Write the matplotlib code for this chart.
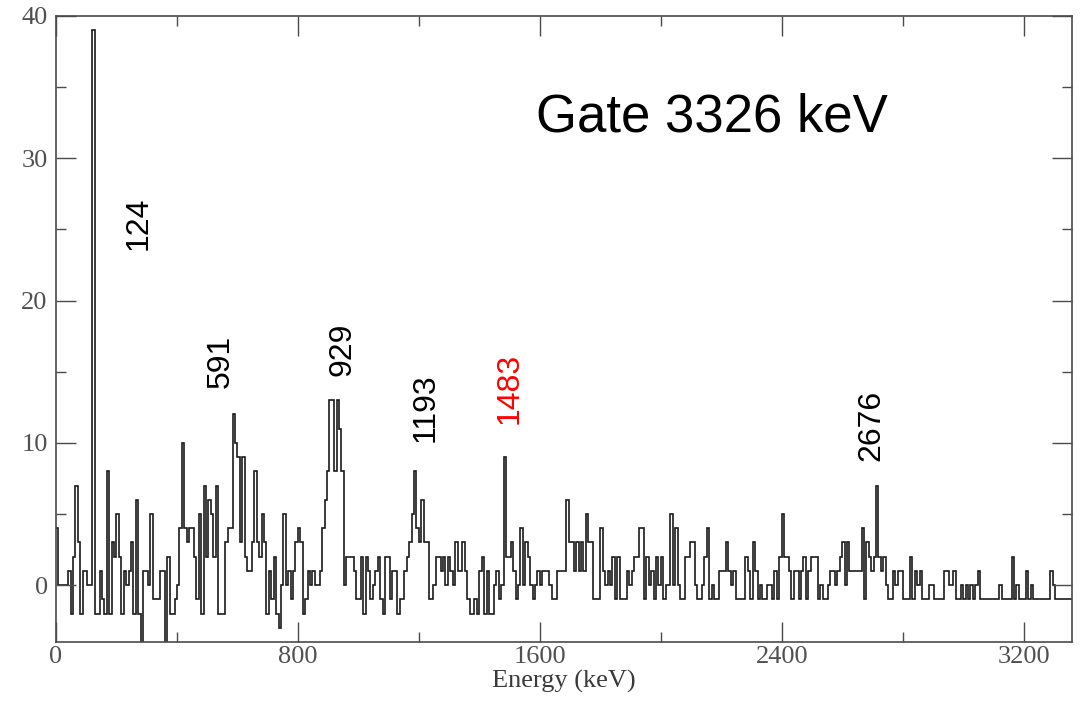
import numpy as np
import matplotlib
matplotlib.use("Agg")
import matplotlib.pyplot as plt
from matplotlib.ticker import MultipleLocator

# ---- data: counts per 8 keV bin, 0 .. 3360 keV ----
bin_width_kev = 8
counts = [
    4, 0, 0, 0, 0, 1, -2, 2, 7, 3, -2, 1, 1, 0, 0, 39, -2, -2, 1, -1,
    -2, 8, -2, 3, 2, 5, 2, -2, 1, 0, 1, 3, -2, 6, -2, -5, 1, 1, 0, 5,
    -1, -1, -1, 1, 1, -5, 2, -2, -2, -1, 0, 4, 10, 4, 3, 4, 4, 2, -1, 5,
    -2, 7, 2, 6, 5, 2, 7, -2, -2, -2, 3, 4, 4, 12, 10, 9, 3, 9, 2, 1,
    1, 3, 8, 3, 2, 5, 3, -2, 1, -1, 2, -2, -3, 0, 5, 0, 1, -1, 1, 3,
    4, 3, -2, -1, 1, 0, 1, 0, 0, 1, 4, 6, 8, 13, 13, 8, 13, 11, 8, 0,
    2, 2, 2, 1, -1, -1, 2, -2, 2, 1, -1, 0, 1, 2, -1, -2, 2, 2, -1, 1,
    1, -2, -1, -1, 1, 2, 3, 5, 8, 4, 3, 6, 3, 3, -1, -1, 0, 2, 2, 1,
    2, 0, 2, 1, 0, 3, 1, 1, 3, 1, -1, -2, -2, -1, -2, 1, 2, -2, 1, -2,
    -2, 0, 1, -1, 0, 9, 2, 2, 3, 1, -1, 0, 4, 0, 3, 2, 0, -1, 0, 1,
    0, 1, 1, 1, 0, -1, -1, 1, 1, 1, 1, 6, 3, 3, 1, 3, 1, 3, 1, 5,
    3, 3, -1, -1, -1, 4, 1, 0, 1, 0, 2, -1, 2, -1, -1, -1, 1, 0, 1, 2,
    2, 4, 4, -1, 2, 0, 1, -1, 2, 0, 2, -1, 0, 0, 5, 0, 4, 0, -1, -1,
    2, 2, 3, 3, 0, -1, -1, 0, 2, 4, -1, 0, -1, -1, 1, 1, 1, 3, 1, 0,
    1, -1, -1, -1, -1, 2, 1, -1, 3, 1, -1, 0, -1, -1, 0, 0, -1, 1, -1, 2,
    5, 2, 2, 1, -1, 1, 1, -1, 1, 2, -1, 1, 2, 2, 2, -1, 0, -1, -1, 0,
    1, 1, 0, 1, 2, 3, 0, 3, 1, 1, 1, 1, 1, 4, -1, 3, 2, 1, 2, 7,
    2, 1, 2, 0, -1, -1, 1, 0, 1, 1, -1, -1, -1, 2, -1, 1, 0, 1, -1, -1,
    -1, 0, 0, -1, -1, -1, -1, 1, 1, 0, 0, 1, -1, -1, 0, -1, 0, -1, 0, -1,
    0, 1, -1, -1, -1, -1, -1, -1, -1, -1, 0, -1, -1, -1, -1, 2, -1, 0, -1, -1,
    -1, 1, -1, 0, -1, -1, -1, -1, -1, -1, -1, 1, 0, -1, -1, -1, -1, -1, -1, -1,
]
peak_labels = ["124", "591", "929", "1193", "1483", "2676"]
peak_label_x = [274, 546, 946, 1224, 1501, 2695]
peak_label_y = [25.4, 15.7, 16.6, 12.5, 13.8, 11.25]
peak_label_colors = ["black", "black", "black", "black", "red", "black"]
gate_text = "Gate 3326 keV"
x_ticks = [0, 800, 1600, 2400, 3200]
y_ticks = [0, 10, 20, 30, 40]
x_label = "Energy (keV)"

edges = np.arange(len(counts) + 1) * bin_width_kev

fig = plt.figure(figsize=(10.81, 7.07), dpi=100)
ax = fig.add_axes([56 / 1081, 65 / 707, (1072 - 56) / 1081, (642 - 16) / 707])

ax.stairs(counts, edges, color="#1a1a1a", linewidth=1.2, baseline=None)

ax.set_xlim(0, edges[-1])
ax.set_ylim(-4, 40)

frame_col = "#4a4a4a"
for s in ax.spines.values():
    s.set_color(frame_col)
    s.set_linewidth(1.2)

ax.xaxis.set_major_locator(MultipleLocator(800))
ax.xaxis.set_minor_locator(MultipleLocator(400))
ax.yaxis.set_major_locator(MultipleLocator(10))
ax.yaxis.set_minor_locator(MultipleLocator(5))
ax.set_xticks(x_ticks)
ax.set_yticks(y_ticks)
ax.set_xticklabels([str(v) for v in x_ticks])
ax.set_yticklabels([str(v) for v in y_ticks])

ax.tick_params(which="both", direction="in", top=True, right=True,
               color=frame_col, width=1.0)
ax.tick_params(which="major", length=14.5)
ax.tick_params(which="minor", length=7.5)
serif = ["Liberation Serif", "DejaVu Serif"]
for lab in ax.get_xticklabels() + ax.get_yticklabels():
    lab.set_family(serif)
    lab.set_fontsize(19)
    lab.set_color("#505050")
ax.tick_params(axis="y", pad=6)
ax.tick_params(axis="x", pad=3)

ax.set_xlabel(x_label, family=serif, fontsize=19, color="#3a3a3a", labelpad=1)

sans = ["Liberation Sans", "DejaVu Sans"]
for t, x, y, c in zip(peak_labels, peak_label_x, peak_label_y, peak_label_colors):
    ax.text(x, y, t, rotation=90, ha="center", va="center", fontsize=23,
            family=sans, color=c)

ax.text(2169, 32.9, gate_text, ha="center", va="center", fontsize=38,
        family=sans, color="black")

fig.savefig("out.png", dpi=100)
